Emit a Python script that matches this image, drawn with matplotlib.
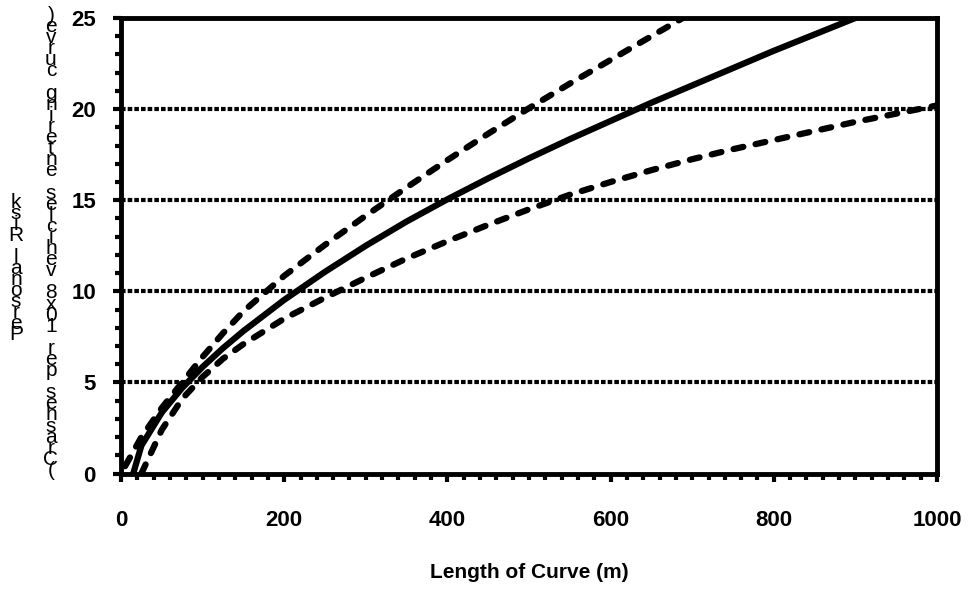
import matplotlib
matplotlib.use("Agg")
import matplotlib.pyplot as plt
from matplotlib.ticker import MultipleLocator

plt.rcParams['font.family'] = ['Liberation Sans', 'DejaVu Sans']

# curve length (m) vs. personal risk
length_mid = [15, 25, 50, 75, 100, 125, 150, 200, 250, 300, 350, 400, 450, 500,
              550, 600, 650, 700, 750, 800, 850, 900]
risk_mid = [0, 1.53, 3.35, 4.70, 5.85, 6.88, 7.82, 9.53, 11.07, 12.50, 13.83, 15.05,
            16.2, 17.3, 18.35, 19.35, 20.35, 21.3, 22.25, 23.2, 24.1, 25.0]

length_upper = [5, 25, 50, 75, 100, 125, 150, 200, 250, 300, 350, 400, 450, 500,
                550, 600, 650, 700]
risk_upper = [0.4, 2.0, 3.6, 5.0, 6.4, 7.7, 8.9, 10.85, 12.55, 14.15, 15.7, 17.2,
              18.65, 20.05, 21.4, 22.7, 24.0, 25.3]

length_lower = [25, 50, 75, 100, 125, 150, 200, 250, 300, 350, 400, 450, 500, 550,
                600, 650, 700, 750, 800, 850, 900, 950, 1000]
risk_lower = [0, 2.4, 4.1, 5.3, 6.3, 7.1, 8.5, 9.65, 10.75, 11.8, 12.75, 13.65, 14.5,
              15.3, 16.0, 16.65, 17.25, 17.8, 18.3, 18.8, 19.3, 19.75, 20.2]

ylabel_outer = "Personal Risk"
ylabel_inner = "(Crashes per 10x8 vehicles entering curve)"

W, H = 969, 590
fig = plt.figure(figsize=(W / 100, H / 100), dpi=100)
ax = fig.add_axes([121 / W, 1 - 473.5 / H, 816 / W, 455.5 / H])

# dotted horizontal grid
for yv in [5, 10, 15, 20, 25]:
    ax.axhline(yv, color='black', lw=3, linestyle=(0, (1.1, 0.5)),
               dash_capstyle='butt', zorder=1)

ax.plot(length_mid, risk_mid, color='black', lw=4.5, solid_capstyle='round',
        solid_joinstyle='round', zorder=3)
for xs, ys in [(length_upper, risk_upper), (length_lower, risk_lower)]:
    ax.plot(xs, ys, color='black', lw=4.5, linestyle=(0, (1.6, 2.0)),
            dash_capstyle='round', dash_joinstyle='round', zorder=3)

ax.set_xlim(0, 1000)
ax.set_ylim(0, 25)
ax.xaxis.set_major_locator(MultipleLocator(200))
ax.xaxis.set_minor_locator(MultipleLocator(20))
ax.yaxis.set_major_locator(MultipleLocator(5))
ax.yaxis.set_minor_locator(MultipleLocator(1))

for sp in ax.spines.values():
    sp.set_linewidth(3.5)
    sp.set_zorder(4)

ax.tick_params(which='major', direction='out', length=6, width=3, color='black')
ax.tick_params(which='minor', direction='out', length=4, width=3, color='black')
ax.tick_params(axis='x', which='major', pad=20, labelsize=16)
ax.tick_params(axis='y', which='major', pad=12, labelsize=16)
for lbl in ax.get_xticklabels() + ax.get_yticklabels():
    lbl.set_fontweight('bold')

ax.set_xlabel("Length of Curve (m)", fontsize=15, fontweight='bold', labelpad=23)

# stacked y-axis label, one upright character per slot from the bottom up
def stacked(text, x_px, base_px, step):
    for i, ch in enumerate(text):
        fig.text(x_px / W, 1 - (base_px - i * step) / H, ch, fontsize=15,
                 ha='center', va='baseline')

stacked(ylabel_outer, 16, 340, 11.0)
stacked(ylabel_inner, 51, 476, 11.1)

fig.savefig("out.png", dpi=100)
